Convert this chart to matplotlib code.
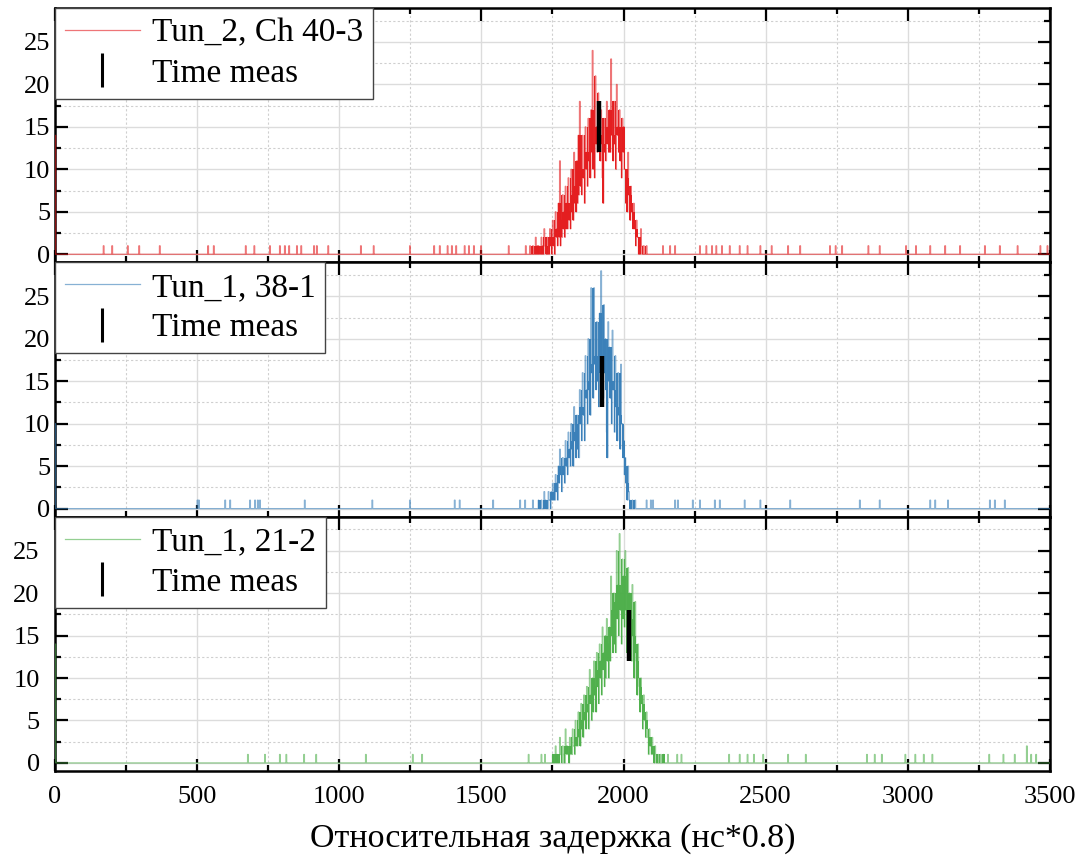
import numpy as np
import matplotlib
matplotlib.use("Agg")
import matplotlib.pyplot as plt
from matplotlib.lines import Line2D
from matplotlib.ticker import MultipleLocator

plt.rcParams["font.family"] = ["Liberation Serif", "DejaVu Serif"]
plt.rcParams["path.simplify"] = False   # keep every sub-pixel step visible

BIN = 5          # resolution of the read-off peak values
SUB = 2.5        # drawn bin width (each 5-unit bin: high value, then low value)
X_MAX = 3500

labels = ["Tun_2, Ch 40-3", "Tun_1, 38-1", "Tun_1, 21-2"]
colors = ["#e41a1c", "#377eb8", "#4daf4a"]

# counts in the first bin (spike drawn on the left spine)
first_bin = [14, 10, 14]

# main peak: start position, upper and lower counts per 5-unit bin
peak_start = [1650, 1700, 1750]
peak_red_hi = [0, 1, 0, 0, 1, 0, 1, 0, 2, 1,
               1, 0, 2, 1, 3, 1, 2, 0, 3, 2,
               4, 2, 5, 3, 6, 11, 4, 7, 5, 8,
               6, 9, 5, 10, 7, 12, 8, 11, 14, 18,
               10, 14, 9, 15, 12, 16, 11, 17, 24, 13,
               21, 15, 19, 14, 17, 9, 16, 13, 18, 15,
               17, 23, 14, 18, 13, 20, 15, 17, 12, 16,
               15, 10, 9, 12, 7, 8, 5, 6, 3, 4,
               2, 1, 3, 0, 1, 0, 1, 0]
peak_red_lo = [0, 0, 0, 0, 0, 0, 0, 0, 0, 0,
               0, 0, 0, 0, 1, 0, 0, 0, 1, 0,
               1, 0, 2, 1, 2, 1, 2, 3, 2, 3,
               3, 4, 3, 5, 4, 6, 5, 6, 7, 8,
               7, 9, 6, 10, 8, 11, 9, 12, 10, 9,
               13, 12, 14, 11, 13, 6, 12, 11, 13, 12,
               12, 14, 11, 13, 10, 14, 12, 11, 9, 12,
               10, 6, 5, 7, 4, 5, 3, 3, 1, 2,
               0, 0, 1, 0, 0, 0, 0, 0]
peak_blue_hi = [1, 0, 1, 0, 2, 1, 0, 2, 1, 2,
                3, 2, 4, 3, 5, 7, 4, 6, 5, 8,
                6, 9, 7, 10, 8, 12, 9, 11, 10, 14,
                12, 16, 11, 18, 14, 20, 15, 26, 17, 26,
                18, 22, 16, 23, 28, 17, 24, 20, 9, 22,
                19, 15, 21, 14, 18, 12, 16, 11, 17, 10,
                8, 6, 3, 5, 1, 0, 1, 0, 1, 0]
peak_blue_lo = [0, 0, 0, 0, 0, 0, 0, 1, 0, 1,
                1, 1, 2, 1, 3, 4, 2, 4, 3, 5,
                4, 6, 5, 7, 5, 8, 6, 7, 6, 10,
                8, 11, 8, 13, 10, 14, 11, 16, 13, 17,
                14, 15, 12, 16, 18, 13, 16, 14, 6, 15,
                13, 10, 14, 9, 12, 8, 11, 7, 10, 6,
                4, 3, 1, 2, 0, 0, 0, 0, 0, 0]
peak_green_hi = [1, 0, 2, 1, 0, 3, 1, 2, 0, 4,
                 2, 1, 3, 2, 4, 2, 5, 3, 6, 4,
                 7, 5, 8, 6, 9, 7, 11, 8, 10, 12,
                 9, 13, 11, 14, 12, 16, 13, 15, 17, 14,
                 16, 22, 18, 20, 19, 25, 21, 27, 20, 24,
                 22, 25, 18, 23, 20, 17, 21, 15, 19, 12,
                 14, 9, 10, 7, 8, 5, 6, 3, 4, 2,
                 3, 1, 2, 0, 1, 0, 1, 0, 1]
peak_green_lo = [0, 0, 0, 0, 0, 1, 0, 1, 0, 1,
                 1, 0, 1, 1, 2, 1, 2, 2, 3, 2,
                 4, 3, 5, 4, 6, 4, 7, 5, 6, 8,
                 6, 9, 7, 10, 8, 11, 9, 10, 12, 10,
                 12, 15, 13, 14, 13, 17, 15, 18, 14, 17,
                 16, 18, 13, 16, 14, 12, 15, 10, 13, 8,
                 10, 6, 7, 4, 5, 3, 4, 1, 2, 1,
                 1, 0, 1, 0, 0, 0, 0, 0, 0]
peaks_hi = [peak_red_hi, peak_blue_hi, peak_green_hi]
peaks_lo = [peak_red_lo, peak_blue_lo, peak_green_lo]

# isolated single-count bins on the baseline
spikes_red = [172, 200, 257, 295, 369, 538, 559, 672, 700, 757, 792, 809,
              823, 851, 865, 911, 921, 960, 1076, 1122, 1249, 1333, 1354,
              1382, 1396, 1410, 1442, 1456, 1474, 1498, 1597,
              2139, 2163, 2181, 2269, 2290, 2311, 2325, 2346, 2374, 2409,
              2437, 2480, 2522, 2578, 2621, 2726, 2747, 2768, 2860, 2902,
              2993, 3028, 3078, 3131, 3184, 3271, 3324, 3387, 3465, 3490]
spikes_blue = [500, 505, 598, 615, 686, 703, 714, 721, 879, 1115, 1249,
               1407, 1424, 1541, 1636, 1653, 1681,
               2082, 2095, 2103, 2181, 2191, 2244, 2269, 2321, 2339, 2427,
               2480, 2585, 2831, 2902, 3078, 3095, 3141, 3289, 3306, 3341]
spikes_green = [679, 739, 791, 813, 876, 918, 1094, 1259, 1291, 1665, 1712,
                1723, 2155, 2189, 2203, 2371, 2409, 2437, 2459, 2490, 2578,
                2642, 2856, 2884, 2909, 2990, 3025, 3057, 3085, 3285, 3335,
                3377, 3433, 3451]
spikes_green_2 = [3419]
spikes = [spikes_red, spikes_blue, spikes_green]

# "Time meas" marks: position and vertical extent
time_x = [1915, 1925, 2020]
time_lo = [12, 12, 12]
time_hi = [18, 18, 18]

fig = plt.figure(figsize=(10.82, 8.61), dpi=100)
fig.subplots_adjust(left=0.0508, right=0.9704, top=0.9907, bottom=0.1045,
                    hspace=0)
axes = fig.subplots(3, 1, sharex=True)

n_sub = int(X_MAX / SUB)
edges = np.linspace(0, X_MAX, n_sub + 1)

for i, ax in enumerate(axes):
    hi = np.array(peaks_hi[i], dtype=float)
    lo = np.array(peaks_lo[i], dtype=float)

    counts = np.zeros(n_sub)
    for s in spikes[i]:
        counts[int(s / SUB)] = 1
    if i == 2:
        for s in spikes_green_2:
            counts[int(s / SUB)] = 2
    k0 = int(peak_start[i] / SUB)
    counts[k0:k0 + 2 * len(hi):2] = hi
    counts[k0 + 1:k0 + 2 * len(hi):2] = lo
    counts[0] = first_bin[i]

    # dense body of the peak: band swept by the line (isolated spikes left out)
    hp = np.pad(hi, 1, mode="edge")
    body = np.median(np.stack([hp[:-2], hp[1:-1], hp[2:]]), axis=0)
    top = np.maximum(body, lo)
    xs = peak_start[i] + BIN * np.arange(len(hi) + 1)
    ax.fill_between(xs, np.append(lo, lo[-1]), np.append(top, top[-1]),
                    step="post", color=colors[i], lw=0, alpha=0.95, zorder=3)
    st = ax.stairs(counts, edges, baseline=0, color=colors[i], lw=0.9,
                   alpha=0.6, zorder=3)
    st.set_snap(False)
    ax.vlines(time_x[i], time_lo[i], time_hi[i], color="black", lw=3.2,
              zorder=4)

    ax.set_xlim(0, X_MAX)
    ax.set_ylim(-0.95, 29)
    ax.xaxis.set_major_locator(MultipleLocator(500))
    ax.xaxis.set_minor_locator(MultipleLocator(250))
    ax.yaxis.set_major_locator(MultipleLocator(5))
    ax.yaxis.set_minor_locator(MultipleLocator(2.5))
    ax.set_yticks([0, 5, 10, 15, 20, 25])
    ax.grid(True, which="major", color="#dcdcdc", lw=1.0, ls="-", zorder=0)
    ax.grid(True, which="minor", color="#cfcfcf", lw=0.8, ls=(0, (2, 2)),
            zorder=0)
    ax.set_axisbelow(True)
    ax.tick_params(which="both", direction="in", top=True, right=True,
                   width=1.6, labelsize=19)
    ax.tick_params(which="major", length=9)
    ax.tick_params(which="minor", length=4)
    for sp in ax.spines.values():
        sp.set_linewidth(1.8)
        sp.set_color("black")
    if i < 2:
        ax.tick_params(labelbottom=False)

    handles = [Line2D([], [], color=colors[i], lw=0.9, alpha=0.6),
               Line2D([], [], color="black", ls="none", marker="|",
                      markersize=25, mew=2.2)]
    leg = ax.legend(handles, [labels[i], "Time meas"], loc="upper left",
                    borderaxespad=0, fontsize=24, fancybox=False,
                    framealpha=1, edgecolor="#444444", handlelength=2.25,
                    borderpad=0.3, labelspacing=0.3, handletextpad=0.35)
    leg.get_frame().set_linewidth(1.0)
    leg.set_zorder(10)

axes[2].tick_params(pad=11)
axes[2].set_xlabel("Относительная задержка (нс*0.8)", fontsize=24.5,
                   labelpad=11)

fig.savefig("out.png", dpi=100, facecolor="white")
